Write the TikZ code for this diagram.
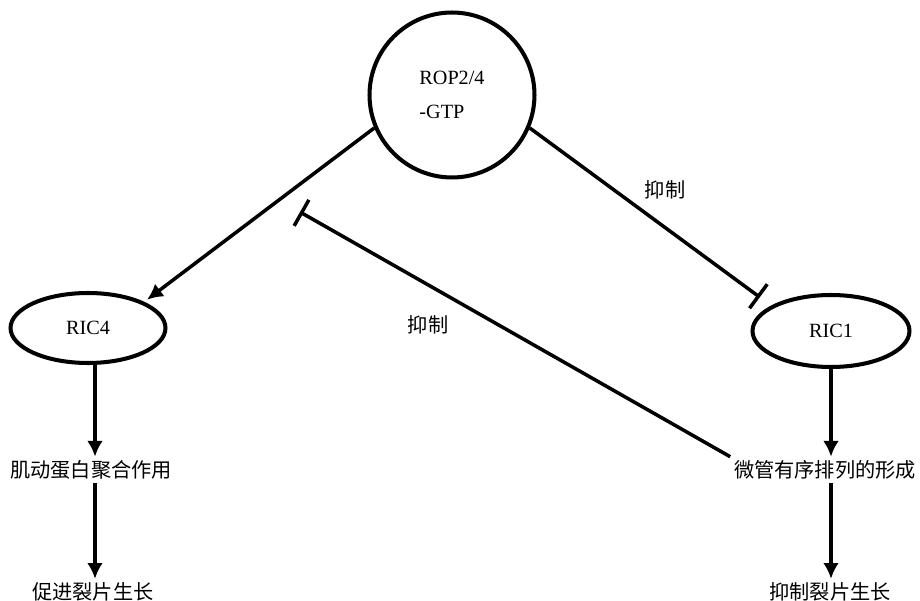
\documentclass[tikz,border=0pt]{standalone}
\usepackage{fontspec}
\setmainfont{Liberation Serif}
\newfontfamily\cjkfont{Noto Sans CJK SC}
\usetikzlibrary{arrows.meta,shapes.geometric}
\tikzset{
  rop-node/.style={draw, circle, line width=2.3pt, minimum size=3.3cm, inner sep=0pt,
    align=left, font=\fontsize{11.5}{13}\selectfont},
  ric-node/.style={draw, ellipse, line width=2.3pt, minimum width=3.1cm, minimum height=1.4cm,
    inner sep=0pt, font=\fontsize{11.5}{13}\selectfont},
  step-text/.style={font=\cjkfont\fontsize{11.5}{13}\selectfont, inner sep=2pt},
  promote/.style={-{Latex[length=9pt,width=9pt]}, line width=2pt},
  inhibit/.style={-{Bar[width=17pt]}, line width=2pt}
}

\begin{document}
\begin{tikzpicture}[x=0.02cm, y=-0.02cm]
  \useasboundingbox (0,0) rectangle (920,601);

  % Signalling hub and its two effectors
  \node[rop-node] (rop) at (452,95) {ROP2/4\\[6pt]-GTP};
  \node[ric-node] (ric4) at (88,328) {RIC4};
  \node[ric-node, minimum width=3.14cm, minimum height=1.44cm] (ric1) at (831,331) {RIC1};

  % Downstream processes
  \node[step-text] (actin) at (91,470) {肌动蛋白聚合作用};
  \node[step-text] (promote) at (93,592) {促进裂片生长};
  \node[step-text] (mt) at (825,470) {微管有序排列的形成};
  \node[step-text] (suppress) at (830,592) {抑制裂片生长};

  % Edge labels
  \node[step-text] (lbl-ric1) at (665,190) {抑制};
  \node[step-text] (lbl-mt) at (428,325) {抑制};

  % Free end of the cross-talk inhibition
  \coordinate (block) at (300,212);

  \draw[promote, shorten >=2pt] (rop.203) -- (ric4.north east);
  \draw[inhibit, shorten >=8pt] (rop.-23) -- (ric1.157);
  \draw[inhibit] (mt.north west) -- (block);

  \draw[promote] ([xshift=0.14cm]ric4.south) -- ([xshift=0.14cm]ric4.south |- actin.north);
  \draw[promote] ([xshift=0.14cm]ric4.south |- actin.south) -- ([xshift=0.14cm]ric4.south |- promote.north);
  \draw[promote] (ric1.south) -- (ric1.south |- mt.north);
  \draw[promote] (ric1.south |- mt.south) -- (ric1.south |- suppress.north);
\end{tikzpicture}
\end{document}
